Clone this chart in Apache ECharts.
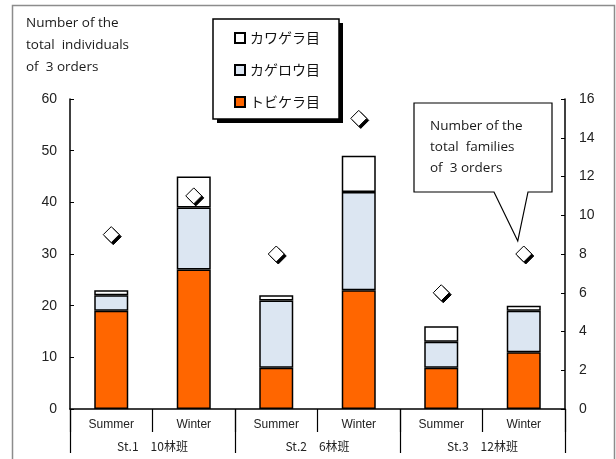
<!DOCTYPE html>
<html>
<head>
<meta charset="utf-8">
<style>
  html, body { margin: 0; padding: 0; background: #fff; }
  #chart { width: 616px; height: 459px; }
</style>
<script src="https://cdn.jsdelivr.net/npm/echarts@6/dist/echarts.min.js"></script>
</head>
<body>
<div id="chart"></div>
<script>
// Sampling occasions (one bar per station and season)
const seasons = ['Summer', 'Winter', 'Summer', 'Winter', 'Summer', 'Winter'];
const stations = ['St.1　10林班', 'St.2　6林班', 'St.3　12林班'];

// Individuals per order (stacked bars, left axis)
const trichoptera = [19, 27, 8, 23, 8, 11];   // トビケラ目
const ephemeroptera = [3, 12, 13, 19, 5, 8];  // カゲロウ目
const plecoptera = [1, 6, 1, 7, 3, 1];        // カワゲラ目

// Families of the three orders combined (right axis)
const families = [9, 11, 8, 15, 6, 8];

const leftTicks = { min: 0, max: 60, interval: 10 };
const rightTicks = { min: 0, max: 16, interval: 2 };

const catKeys = seasons.map((s, i) => 'c' + i);
const latin = '"Liberation Sans", Arial, sans-serif';
const jp = '"Noto Sans CJK JP", "Noto Sans", sans-serif';
const prose = '"Open Sans", "Noto Sans", sans-serif';

const chart = echarts.init(document.getElementById('chart'), null, { renderer: 'canvas' });

const barStyle = (color) => ({ color: color, borderColor: '#000', borderWidth: 1.5 });

chart.setOption({
  animation: false,
  backgroundColor: '#fff',
  grid: { left: 70, right: 51, top: 99, bottom: 50, containLabel: false },
  legend: {
    data: ['カワゲラ目', 'カゲロウ目', 'トビケラ目'],
    orient: 'vertical',
    left: 213, top: 19,
    icon: 'rect',
    itemWidth: 10, itemHeight: 10,
    itemGap: 16,
    padding: [11, 20, 9, 21],
    textStyle: { fontFamily: jp, fontSize: 14, color: '#111', lineHeight: 16 },
    selectedMode: false,
    z: 12
  },
  xAxis: [
    {
      type: 'category',
      position: 'bottom',
      data: catKeys,
      axisLine: { show: true, lineStyle: { color: '#000', width: 1.5 } },
      axisTick: { show: true, length: 23, interval: 0, lineStyle: { color: '#000', width: 1.2 } },
      axisLabel: {
        interval: 0, margin: 10,
        formatter: (v) => seasons[catKeys.indexOf(v)],
        fontFamily: latin, fontSize: 12, color: '#222'
      },
      splitLine: { show: false }
    },
    {
      type: 'category',
      position: 'bottom',
      data: stations,
      axisLine: { show: false },
      axisTick: { show: true, length: 44, interval: 0, lineStyle: { color: '#000', width: 1.2 } },
      axisLabel: { interval: 0, margin: 31, fontFamily: jp, fontSize: 12, color: '#222' },
      splitLine: { show: false }
    }
  ],
  yAxis: [
    {
      type: 'value',
      position: 'left',
      min: leftTicks.min, max: leftTicks.max, interval: leftTicks.interval,
      axisLine: { show: true, lineStyle: { color: '#000', width: 1.5 } },
      axisTick: { show: true, inside: true, length: 4, lineStyle: { color: '#000' } },
      axisLabel: { margin: 13, fontFamily: latin, fontSize: 14, color: '#222' },
      splitLine: { show: false }
    },
    {
      type: 'value',
      position: 'right',
      min: rightTicks.min, max: rightTicks.max, interval: rightTicks.interval,
      axisLine: { show: true, lineStyle: { color: '#000', width: 1.5 } },
      axisTick: { show: true, inside: true, length: 4, lineStyle: { color: '#000' } },
      axisLabel: { margin: 14, fontFamily: latin, fontSize: 14, color: '#222' },
      splitLine: { show: false }
    }
  ],
  series: [
    { name: 'トビケラ目', type: 'bar', stack: 'n', barWidth: 34, data: trichoptera, itemStyle: barStyle('#FF6600') },
    { name: 'カゲロウ目', type: 'bar', stack: 'n', barWidth: 34, data: ephemeroptera, itemStyle: barStyle('#DCE6F2') },
    { name: 'カワゲラ目', type: 'bar', stack: 'n', barWidth: 34, data: plecoptera, itemStyle: barStyle('#FFFFFF') },
    {
      name: 'families-shade', type: 'scatter', yAxisIndex: 1, data: families,
      symbol: 'diamond', symbolSize: 16, symbolOffset: [2, 2],
      itemStyle: { color: '#000', borderColor: '#000', borderWidth: 1, opacity: 1 }, z: 5
    },
    {
      name: 'families', type: 'scatter', yAxisIndex: 1, data: families,
      symbol: 'diamond', symbolSize: 16,
      itemStyle: { color: '#fff', borderColor: '#000', borderWidth: 1, opacity: 1 }, z: 6
    }
  ]
});

// Callout box for the family counts, pointing at the last diamond
const last = families.length - 1;
const tip = chart.convertToPixel({ xAxisIndex: 0, yAxisIndex: 1 }, [catKeys[last], families[last]]);
const tipX = tip[0] - 6, tipY = tip[1] - 13;
const box = { l: 414, t: 103, r: 552, b: 192 };

chart.setOption({
  graphic: [
    {
      type: 'rect', silent: true, z: 0,
      shape: { x: 12.5, y: 5.5, width: 602, height: 470 },
      style: { fill: 'none', stroke: '#8c8c8c', lineWidth: 1.5 }
    },
    // legend frame with a solid drop shadow
    {
      type: 'rect', silent: true, z: 10,
      shape: { x: 217, y: 23, width: 126, height: 100 },
      style: { fill: '#000' }
    },
    {
      type: 'rect', silent: true, z: 11,
      shape: { x: 213, y: 19, width: 126, height: 100 },
      style: { fill: '#fff', stroke: '#000', lineWidth: 1.5 }
    },
    {
      type: 'text', left: 26, top: 12, z: 10,
      style: {
        text: 'Number of the\ntotal  individuals\nof  3 orders',
        fontFamily: prose, fontSize: 13.5, lineHeight: 22, fill: '#1a1a1a'
      }
    },
    {
      type: 'polygon', z: 20, silent: true,
      shape: {
        points: [
          [box.l, box.t], [box.r, box.t], [box.r, box.b],
          [box.l + 114, box.b], [tipX, tipY], [box.l + 80, box.b],
          [box.l, box.b]
        ]
      },
      style: { fill: '#fff', stroke: '#000', lineWidth: 1.2 }
    },
    {
      type: 'text', left: 430, top: 116, z: 21,
      style: {
        text: 'Number of the\ntotal  families\nof  3 orders',
        fontFamily: prose, fontSize: 13.5, lineHeight: 21, fill: '#1a1a1a'
      }
    }
  ]
});
</script>
</body>
</html>
